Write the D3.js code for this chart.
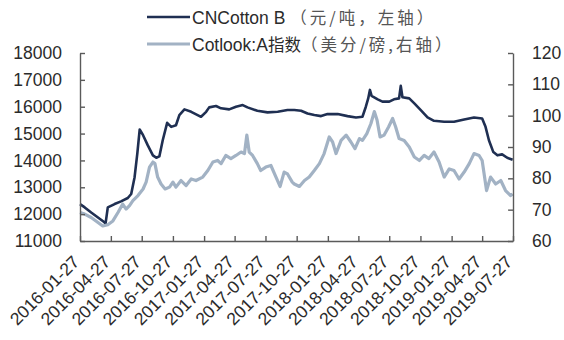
<!DOCTYPE html>
<html>
<head>
<meta charset="utf-8">
<script src="https://cdn.jsdelivr.net/npm/d3@7"></script>
<style>
  html, body { margin: 0; padding: 0; background: #ffffff; }
  svg { display: block; }
</style>
</head>
<body>
<svg id="chart" width="564" height="340"></svg>
<script>
// CNCotton B price index (yuan/ton, left axis)
const cnDates = [
  "2016-01-27","2016-02-10","2016-02-29","2016-03-20","2016-04-09","2016-04-11","2016-04-18",
  "2016-05-08","2016-05-27","2016-06-16","2016-06-26","2016-07-06","2016-07-14","2016-07-21",
  "2016-07-31","2016-08-14","2016-08-29","2016-09-08","2016-09-17","2016-09-27","2016-10-10",
  "2016-10-22","2016-11-05","2016-11-15","2016-11-30","2016-12-20","2017-01-18","2017-02-02",
  "2017-02-11","2017-03-03","2017-03-18","2017-04-11","2017-05-01","2017-05-21","2017-06-04",
  "2017-07-03","2017-08-02","2017-09-01","2017-09-30","2017-10-20","2017-11-09","2017-11-28",
  "2017-12-18","2018-01-07","2018-01-26","2018-02-25","2018-03-26","2018-04-20","2018-05-09",
  "2018-05-19","2018-05-26","2018-05-31","2018-06-05","2018-06-23","2018-07-07","2018-07-27",
  "2018-08-10","2018-08-25","2018-08-30","2018-09-04","2018-09-24","2018-10-09","2018-10-28",
  "2018-11-17","2018-12-06","2019-01-05","2019-02-03","2019-03-05","2019-04-03","2019-04-27",
  "2019-05-07","2019-05-17","2019-05-30","2019-06-11","2019-06-25","2019-07-10","2019-07-26"
];
const cnValues = [
  12375,12250,12060,11875,11690,11620,12250,
  12375,12475,12600,12750,13375,14250,15150,
  14940,14560,14190,14100,14150,14750,15400,
  15250,15310,15690,15900,15810,15625,15810,
  15975,16025,15940,15900,16000,16060,15975,
  15850,15790,15810,15875,15875,15850,15750,
  15690,15650,15725,15725,15650,15600,15625,
  16000,16310,16625,16400,16275,16190,16190,
  16275,16310,16775,16350,16310,16125,15875,
  15600,15475,15440,15440,15525,15600,15560,
  15250,14750,14310,14190,14225,14100,14025
];

// Cotlook A index (US cents/lb, right axis)
const ctDates = [
  "2016-01-27","2016-02-10","2016-02-29","2016-03-20","2016-04-03","2016-04-18","2016-05-03",
  "2016-05-18","2016-06-01","2016-06-11","2016-06-21","2016-07-01","2016-07-16","2016-07-31",
  "2016-08-09","2016-08-19","2016-08-29","2016-09-04","2016-09-12","2016-09-22","2016-10-04",
  "2016-10-17","2016-10-27","2016-11-05","2016-11-20","2016-12-05","2016-12-20","2017-01-03",
  "2017-01-23","2017-02-07","2017-02-22","2017-03-08","2017-03-18","2017-04-01","2017-04-16",
  "2017-05-01","2017-05-16","2017-05-26","2017-06-02","2017-06-09","2017-06-19","2017-07-03",
  "2017-07-13","2017-07-28","2017-08-12","2017-08-27","2017-09-08","2017-09-20","2017-09-30",
  "2017-10-14","2017-10-20","2017-11-04","2017-11-19","2017-12-03","2017-12-18","2018-01-02",
  "2018-01-16","2018-01-31","2018-02-10","2018-02-20","2018-03-07","2018-03-22","2018-04-05",
  "2018-04-17","2018-04-30","2018-05-09","2018-05-22","2018-06-03","2018-06-13","2018-06-21",
  "2018-06-30","2018-07-12","2018-07-25","2018-08-06","2018-08-15","2018-08-25","2018-09-09",
  "2018-09-24","2018-10-09","2018-10-24","2018-11-07","2018-11-21","2018-12-06","2018-12-21",
  "2019-01-05","2019-01-20","2019-02-03","2019-02-18","2019-03-05","2019-03-20","2019-04-03",
  "2019-04-18","2019-04-27","2019-05-10","2019-05-22","2019-06-06","2019-06-21","2019-07-05",
  "2019-07-20","2019-07-26"
];
const ctValues = [
  69.1,68.6,67.5,65.9,64.8,65.2,66.4,
  69.1,71.8,70.2,71.3,72.9,74.5,76.6,
  78.8,83.6,85.2,84.7,80.4,78.2,76.6,
  77.2,78.8,77.2,79.3,77.7,79.8,79.3,
  80.4,82.5,85.2,85.7,84.7,87.3,86.3,
  87.3,88.4,87.9,93.8,88.4,87.3,84.7,
  82.5,83.6,84.1,80.4,77.4,82.0,81.4,
  78.8,78.2,77.4,79.3,80.4,82.5,84.7,
  87.9,93.2,91.6,87.9,92.1,93.8,91.6,
  89.5,92.7,92.1,94.3,97.5,101.3,98.6,
  93.2,93.8,96.4,99.1,96.4,92.7,92.1,
  90.0,86.8,85.7,87.3,86.3,88.4,85.2,
  80.4,83.0,82.5,79.8,82.0,84.7,87.9,
  87.3,85.7,76.1,80.4,78.2,79.3,76.1,
  74.5,75.0
];

const leftTicks = [11000,12000,13000,14000,15000,16000,17000,18000];
const rightTicks = [60,70,80,90,100,110,120];
const dateTicks = [
  "2016-01-27","2016-04-27","2016-07-27","2016-10-27","2017-01-27","2017-04-27","2017-07-27",
  "2017-10-27","2018-01-27","2018-04-27","2018-07-27","2018-10-27","2019-01-27","2019-04-27",
  "2019-07-27"
];
const seriesNames = ["CNCotton B", "Cotlook:A"];

const parse = d3.timeParse("%Y-%m-%d");
const svg = d3.select("#chart");

const plot = { left: 80, right: 513, top: 53, bottom: 241 };
const latin = "'Liberation Sans', Arial, Helvetica, sans-serif";
const cjk = "'Noto Sans CJK SC', 'Noto Sans CJK TC', sans-serif";
const axisColor = "#5a5a5a";
const textColor = "#2b2b2b";
const darkBlue = "#1f2f52";
const lightBlue = "#a2b2c4";

const x = d3.scaleTime()
  .domain([parse(dateTicks[0]), parse(dateTicks[dateTicks.length - 1])])
  .range([plot.left, plot.right]);
const yL = d3.scaleLinear().domain([11000, 18000]).range([plot.bottom, plot.top]);
const yR = d3.scaleLinear().domain([60, 120]).range([plot.bottom, plot.top]);

// series lines
const cnData = cnDates.map((d, i) => ({ date: parse(d), v: cnValues[i] }));
const ctData = ctDates.map((d, i) => ({ date: parse(d), v: ctValues[i] }));

svg.append("path")
  .datum(cnData)
  .attr("fill", "none")
  .attr("stroke", darkBlue)
  .attr("stroke-width", 2.6)
  .attr("stroke-linejoin", "round")
  .attr("d", d3.line().x(d => x(d.date)).y(d => yL(d.v)));

svg.append("path")
  .datum(ctData)
  .attr("fill", "none")
  .attr("stroke", lightBlue)
  .attr("stroke-width", 3.2)
  .attr("stroke-linejoin", "round")
  .attr("d", d3.line().x(d => x(d.date)).y(d => yR(d.v)));

// axes
function styleAxis(g) {
  g.selectAll("path, line").attr("stroke", axisColor).attr("stroke-width", 1.4);
  g.selectAll("text")
    .attr("fill", textColor)
    .style("font-family", latin)
    .style("font-size", "17.5px");
}

svg.append("g")
  .attr("transform", `translate(${plot.left},0)`)
  .call(d3.axisLeft(yL).tickValues(leftTicks).tickFormat(d3.format("d"))
    .tickSize(-5).tickSizeOuter(0).tickPadding(18))
  .call(styleAxis);

svg.append("g")
  .attr("transform", `translate(${plot.right},0)`)
  .call(d3.axisRight(yR).tickValues(rightTicks).tickFormat(d3.format("d"))
    .tickSize(-5).tickSizeOuter(0).tickPadding(19))
  .call(styleAxis);

const xAxis = svg.append("g")
  .attr("transform", `translate(0,${plot.bottom})`)
  .call(d3.axisBottom(x).tickValues(dateTicks.map(parse)).tickFormat("")
    .tickSize(-5).tickSizeOuter(0))
  .call(styleAxis);

xAxis.selectAll(".tick").append("text")
  .attr("text-anchor", "end")
  .attr("transform", "translate(0,22) rotate(-45)")
  .attr("fill", textColor)
  .style("font-family", latin)
  .style("font-size", "17.5px")
  .text((d, i) => dateTicks[i]);

// legend
const legend = svg.append("g");
const legendRows = [
  { y: 17, color: darkBlue, width: 2.6, name: seriesNames[0], cn: "", unit: "（元/吨，左轴）" },
  { y: 44, color: lightBlue, width: 3.2, name: seriesNames[1], cn: "指数", unit: "（美分/磅,右轴）" }
];
legendRows.forEach(r => {
  legend.append("line")
    .attr("x1", 147).attr("x2", 190)
    .attr("y1", r.y).attr("y2", r.y)
    .attr("stroke", r.color).attr("stroke-width", r.width);
  const t = legend.append("text")
    .attr("x", 192).attr("y", r.y + 6.5)
    .attr("fill", textColor)
    .style("font-size", "17.5px");
  t.append("tspan").style("font-family", latin).text(r.name + (r.cn ? "" : " "));
  if (r.cn) t.append("tspan").style("font-family", cjk).style("font-size", "16.5px").text(r.cn);
  t.append("tspan").style("font-family", cjk).style("font-size", "16.5px")
    .style("letter-spacing", "3px")
    .attr("fill", "#555").text(r.unit);
});
</script>
</body>
</html>
